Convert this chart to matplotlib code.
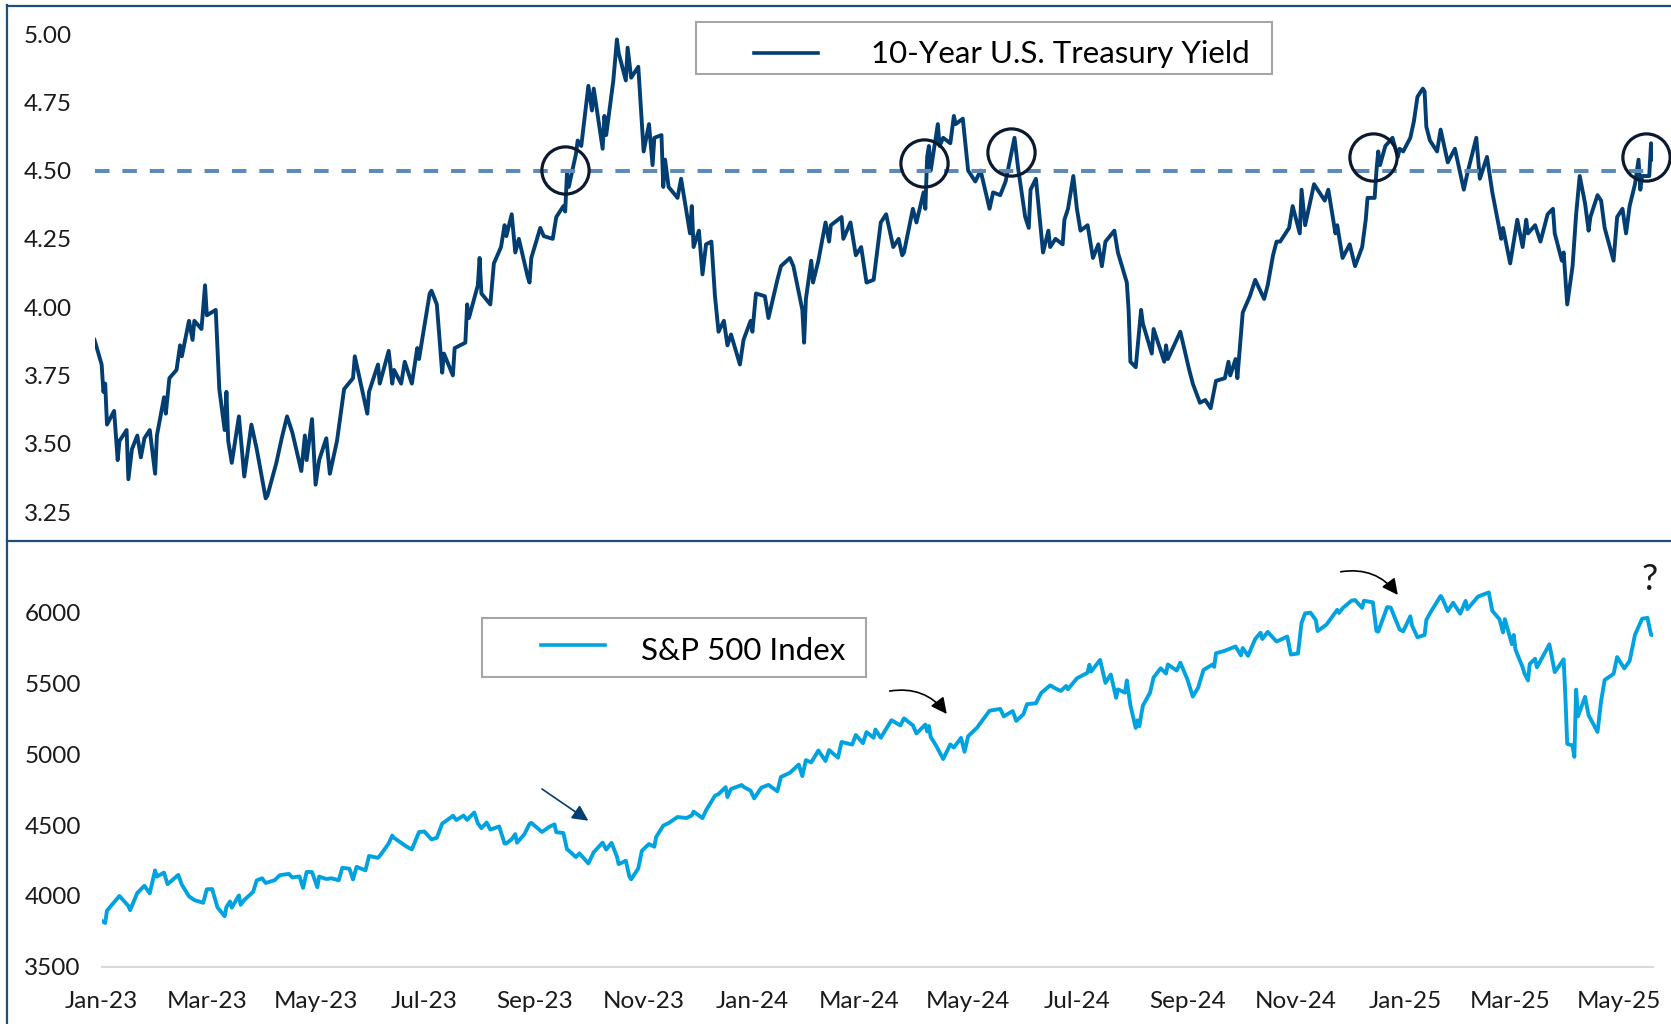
import matplotlib
matplotlib.use("Agg")
import matplotlib.pyplot as plt
import matplotlib.dates as mdates
from matplotlib.lines import Line2D
from matplotlib.patches import Rectangle
import pandas as pd

plt.rcParams['font.family'] = ['Lato', 'DejaVu Sans']

# figure size in pixels
W, H = 1671, 1024

# 10-year treasury yield (%), dates as yymmdd
yld_dates = [
    "221230",
    "230103", "230104", "230105", "230106", "230110", "230112", "230113", "230117", "230118", "230120", "230123", "230125", "230127", "230130",
    "230202", "230203", "230207", "230208", "230210", "230214", "230216", "230217", "230221", "230223", "230224", "230228",
    "230302", "230303", "230308", "230310", "230313", "230314", "230315", "230317", "230321", "230324", "230328", "230331",
    "230405", "230406", "230411", "230414", "230417", "230420", "230425", "230427", "230428",
    "230501", "230503", "230505", "230509", "230511", "230515", "230519", "230524", "230525",
    "230601", "230602", "230607", "230608", "230613", "230615", "230616", "230620", "230622", "230626", "230629", "230630",
    "230706", "230707", "230710", "230713", "230714", "230719", "230720", "230726", "230727", "230728",
    "230802", "230803", "230804", "230809", "230811", "230815", "230817", "230818", "230821", "230823", "230825", "230830", "230831",
    "230901", "230906", "230908", "230913", "230915", "230919", "230920", "230921", "230922", "230926", "230927", "230929",
    "231003", "231005", "231006", "231011", "231012", "231013", "231017", "231019", "231020", "231024", "231025", "231027", "231031",
    "231102", "231103", "231106", "231108", "231109", "231113", "231114", "231115", "231117", "231122", "231124", "231129", "231130",
    "231201", "231204", "231206", "231208", "231211", "231213", "231215", "231218", "231220", "231222", "231227", "231229",
    "240102", "240103", "240105", "240110", "240112", "240117", "240119", "240124", "240126", "240131",
    "240201", "240202", "240205", "240206", "240209", "240213", "240215", "240216", "240222", "240223", "240227",
    "240301", "240304", "240307", "240311", "240315", "240318", "240322", "240325", "240327", "240328",
    "240402", "240404", "240408", "240409", "240410", "240411", "240412", "240416", "240417", "240419", "240423", "240425", "240426", "240430",
    "240503", "240507", "240510", "240515", "240517", "240521", "240524", "240529", "240531",
    "240604", "240606", "240607", "240610", "240614", "240617", "240618", "240621", "240625", "240626", "240628",
    "240701", "240703", "240705", "240709", "240712", "240715", "240717", "240719", "240724", "240726", "240731",
    "240801", "240802", "240805", "240808", "240809", "240814", "240815", "240821", "240822", "240823", "240830",
    "240904", "240906", "240910", "240913", "240916", "240919", "240924", "240926", "240927", "240930",
    "241001", "241004", "241008", "241011", "241016", "241018", "241021", "241023", "241025", "241030",
    "241101", "241105", "241106", "241108", "241113", "241115", "241119", "241121", "241125", "241126", "241129",
    "241203", "241206", "241210", "241212", "241213", "241217", "241218", "241219", "241220", "241223", "241227", "241230", "241231",
    "250102", "250106", "250108", "250110", "250113", "250114", "250115", "250117", "250121", "250123", "250127", "250131",
    "250205", "250207", "250212", "250214", "250218", "250221", "250226", "250227",
    "250303", "250307", "250310", "250312", "250313", "250317", "250320", "250324", "250327", "250328",
    "250401", "250402", "250404", "250407", "250409", "250411", "250414", "250416", "250417", "250421", "250423", "250425", "250430",
    "250502", "250505", "250507", "250509", "250512", "250514", "250515", "250516", "250520", "250521", "250522",
]
yld_vals = [
    3.88,
    3.79, 3.69, 3.72, 3.57, 3.62, 3.44, 3.51, 3.55, 3.37, 3.48, 3.53, 3.45, 3.52, 3.55,
    3.39, 3.53, 3.67, 3.61, 3.74, 3.77, 3.86, 3.82, 3.95, 3.88, 3.95, 3.92,
    4.08, 3.97, 3.99, 3.70, 3.55, 3.69, 3.51, 3.43, 3.60, 3.38, 3.57, 3.48,
    3.30, 3.31, 3.43, 3.52, 3.60, 3.54, 3.40, 3.53, 3.44,
    3.59, 3.35, 3.44, 3.52, 3.39, 3.51, 3.70, 3.74, 3.82,
    3.61, 3.69, 3.79, 3.72, 3.84, 3.72, 3.77, 3.72, 3.80, 3.72, 3.85, 3.81,
    4.05, 4.06, 4.01, 3.76, 3.83, 3.75, 3.85, 3.87, 4.01, 3.96,
    4.08, 4.18, 4.05, 4.01, 4.16, 4.22, 4.30, 4.26, 4.34, 4.20, 4.25, 4.11, 4.09,
    4.18, 4.29, 4.26, 4.25, 4.33, 4.37, 4.35, 4.49, 4.44, 4.56, 4.61, 4.59,
    4.81, 4.72, 4.80, 4.58, 4.70, 4.63, 4.83, 4.98, 4.93, 4.83, 4.95, 4.84, 4.88,
    4.67, 4.57, 4.67, 4.52, 4.62, 4.63, 4.44, 4.54, 4.44, 4.40, 4.47, 4.27, 4.37,
    4.22, 4.28, 4.12, 4.23, 4.24, 4.04, 3.91, 3.95, 3.86, 3.90, 3.79, 3.88,
    3.95, 3.91, 4.05, 4.04, 3.96, 4.10, 4.15, 4.18, 4.15, 3.99,
    3.87, 4.03, 4.17, 4.09, 4.17, 4.31, 4.24, 4.30, 4.33, 4.25, 4.31,
    4.19, 4.22, 4.09, 4.10, 4.31, 4.34, 4.22, 4.25, 4.19, 4.20,
    4.36, 4.31, 4.42, 4.36, 4.55, 4.59, 4.50, 4.67, 4.59, 4.62, 4.60, 4.70, 4.67, 4.69,
    4.50, 4.46, 4.50, 4.36, 4.42, 4.41, 4.46, 4.62, 4.51,
    4.33, 4.29, 4.43, 4.47, 4.20, 4.28, 4.22, 4.25, 4.23, 4.32, 4.36,
    4.48, 4.36, 4.28, 4.30, 4.18, 4.23, 4.15, 4.24, 4.28, 4.20, 4.09,
    3.99, 3.80, 3.78, 3.99, 3.94, 3.83, 3.92, 3.80, 3.86, 3.81, 3.91,
    3.77, 3.72, 3.65, 3.66, 3.63, 3.73, 3.74, 3.80, 3.75, 3.81,
    3.74, 3.98, 4.04, 4.10, 4.03, 4.08, 4.19, 4.24, 4.24, 4.29,
    4.37, 4.27, 4.43, 4.30, 4.45, 4.43, 4.39, 4.43, 4.27, 4.30, 4.18,
    4.23, 4.15, 4.22, 4.32, 4.40, 4.40, 4.50, 4.57, 4.52, 4.59, 4.62, 4.55, 4.58,
    4.57, 4.62, 4.68, 4.77, 4.80, 4.79, 4.66, 4.61, 4.57, 4.65, 4.53, 4.58,
    4.43, 4.49, 4.62, 4.47, 4.55, 4.42, 4.25, 4.29,
    4.16, 4.32, 4.22, 4.32, 4.27, 4.30, 4.24, 4.34, 4.36, 4.27,
    4.17, 4.20, 4.01, 4.15, 4.34, 4.48, 4.38, 4.28, 4.33, 4.41, 4.39, 4.29, 4.17,
    4.33, 4.36, 4.27, 4.37, 4.45, 4.54, 4.43, 4.48, 4.48, 4.60, 4.54,
]

# S&P 500 index closes
spx_dates = [
    "230103", "230105", "230106", "230111", "230113", "230118", "230119", "230123", "230127", "230130",
    "230202", "230203", "230207", "230209", "230215", "230217", "230221", "230224",
    "230301", "230303", "230306", "230309", "230313", "230314", "230316", "230317", "230321", "230322", "230324", "230329", "230331",
    "230403", "230405", "230410", "230413", "230418", "230420", "230424", "230426", "230428",
    "230501", "230504", "230505", "230509", "230512", "230516", "230518", "230522", "230524", "230526", "230531",
    "230602", "230607", "230609", "230613", "230615", "230616", "230621", "230623", "230626", "230630",
    "230703", "230707", "230710", "230713", "230718", "230719", "230721", "230725", "230727", "230731",
    "230802", "230804", "230807", "230809", "230814", "230817", "230818", "230821", "230823", "230824", "230828", "230831",
    "230901", "230907", "230911", "230914", "230915", "230919", "230921", "230922", "230926", "230928",
    "231003", "231006", "231011", "231013", "231016", "231019", "231020", "231024", "231026", "231027", "231031",
    "231102", "231106", "231109", "231110", "231114", "231117", "231122", "231127", "231130",
    "231201", "231206", "231208", "231213", "231215", "231219", "231220", "231222", "231228", "231229",
    "240102", "240104", "240108", "240112", "240117", "240119", "240124", "240129", "240131",
    "240202", "240205", "240209", "240213", "240215", "240220", "240222", "240228",
    "240301", "240305", "240307", "240311", "240312", "240315", "240321", "240326", "240328",
    "240402", "240404", "240409", "240410", "240411", "240412", "240415", "240419", "240423", "240425", "240429",
    "240501", "240503", "240508", "240510", "240515", "240521", "240523", "240528", "240530",
    "240603", "240605", "240610", "240613", "240618", "240621", "240624", "240627", "240628",
    "240703", "240709", "240710", "240711", "240716", "240719", "240722", "240725", "240726", "240730", "240731",
    "240802", "240805", "240806", "240807", "240809", "240813", "240815", "240819", "240822", "240823", "240828", "240830",
    "240903", "240906", "240909", "240912", "240917", "240918", "240919", "240924", "240930",
    "241003", "241004", "241007", "241011", "241014", "241015", "241018", "241023", "241029", "241031",
    "241104", "241106", "241108", "241111", "241114", "241115", "241120", "241126", "241127", "241129",
    "241204", "241206", "241210", "241211", "241216", "241218", "241219", "241224", "241226", "241231",
    "250102", "250106", "250107", "250110", "250114", "250115", "250117", "250123", "250124", "250127", "250130",
    "250203", "250206", "250207", "250213", "250219", "250221", "250225", "250227", "250228",
    "250304", "250305", "250306", "250310", "250311", "250313", "250314", "250317", "250318", "250325", "250328",
    "250402", "250403", "250404", "250407", "250408", "250409", "250410", "250414", "250416", "250421", "250423", "250425", "250430",
    "250502", "250506", "250509", "250512", "250516", "250519", "250521", "250522",
]
spx_vals = [
    3824, 3808, 3895, 3970, 3999, 3929, 3899, 4020, 4071, 4018,
    4180, 4136, 4164, 4082, 4148, 4079, 3997, 3970,
    3951, 4046, 4048, 3918, 3856, 3920, 3960, 3917, 4003, 3937, 3971, 4028, 4109,
    4124, 4091, 4110, 4146, 4155, 4130, 4137, 4056, 4169,
    4168, 4061, 4136, 4119, 4124, 4110, 4198, 4192, 4116, 4205, 4180,
    4282, 4268, 4299, 4370, 4426, 4410, 4366, 4348, 4328, 4450,
    4455, 4399, 4410, 4510, 4555, 4566, 4536, 4567, 4537, 4589,
    4513, 4478, 4518, 4468, 4490, 4370, 4370, 4400, 4436, 4376, 4433, 4508,
    4516, 4451, 4487, 4505, 4450, 4444, 4330, 4320, 4274, 4300,
    4229, 4308, 4376, 4327, 4374, 4278, 4224, 4248, 4137, 4117, 4194,
    4318, 4366, 4347, 4415, 4496, 4514, 4557, 4550, 4568,
    4595, 4549, 4604, 4707, 4719, 4768, 4698, 4755, 4783, 4770,
    4743, 4689, 4764, 4784, 4739, 4840, 4869, 4928, 4846,
    4959, 4943, 5027, 4953, 5030, 4976, 5087, 5069,
    5137, 5079, 5157, 5117, 5175, 5117, 5241, 5204, 5254,
    5205, 5147, 5210, 5161, 5200, 5123, 5062, 4967, 5070, 5048, 5116,
    5018, 5128, 5188, 5223, 5308, 5321, 5268, 5306, 5236,
    5283, 5354, 5361, 5434, 5487, 5465, 5448, 5483, 5460,
    5537, 5577, 5633, 5585, 5667, 5505, 5564, 5399, 5459, 5436, 5522,
    5347, 5186, 5240, 5199, 5344, 5435, 5543, 5608, 5571, 5635, 5592, 5648,
    5529, 5408, 5471, 5596, 5634, 5618, 5714, 5732, 5762,
    5699, 5751, 5696, 5815, 5859, 5815, 5865, 5797, 5832, 5705,
    5712, 5929, 5996, 6001, 5949, 5871, 5917, 6021, 5999, 6032,
    6086, 6090, 6035, 6085, 6074, 5872, 5867, 6040, 6037, 5882,
    5869, 5975, 5909, 5827, 5843, 5950, 5997, 6119, 6101, 6012, 6071,
    5994, 6084, 6026, 6115, 6144, 6013, 5955, 5861, 5955,
    5778, 5843, 5739, 5615, 5572, 5522, 5639, 5675, 5615, 5777, 5581,
    5671, 5397, 5074, 5062, 4982, 5457, 5268, 5406, 5276, 5158, 5376, 5525, 5569,
    5687, 5607, 5660, 5844, 5958, 5964, 5845, 5842,
]

yld_ticks = [3.25, 3.50, 3.75, 4.00, 4.25, 4.50, 4.75, 5.00]
spx_ticks = [3500, 4000, 4500, 5000, 5500, 6000]
threshold = 4.50

# circled breaks above 4.5%
circle_dates = ["230920", "240408", "240527", "241216", "250518"]
circle_vals = [4.503, 4.527, 4.569, 4.551, 4.551]

# arrows on the S&P panel
arrow_tail_dates = ["230907", "240320", "241128"]
arrow_tail_vals = [4755, 5447, 6290]
arrow_tip_dates = ["231003", "240421", "241230"]
arrow_tip_vals = [4531, 5285, 6126]

YLD_COLOR = "#033e73"
SPX_COLOR = "#00a3e0"
DASH_COLOR = "#5f8ab8"
FRAME_COLOR = "#1f4e79"
TEXT_COLOR = "#1a1a1a"

yd = pd.to_datetime(yld_dates, format="%y%m%d")
sd = pd.to_datetime(spx_dates, format="%y%m%d")


def fx(px):
    return px / W


def fy(py):
    return 1 - py / H


fig = plt.figure(figsize=(W / 100, H / 100), dpi=100)

# ---- top panel: treasury yield ----
top_l, top_r, top_t, top_b = 94.5, 1652.8, 34.0, 512.0
ax1 = fig.add_axes([fx(top_l), fy(top_b), fx(top_r - top_l), (top_b - top_t) / H])
ax1.plot(yd, yld_vals, color=YLD_COLOR, lw=2.8, zorder=2)
ax1.axhline(threshold, color=DASH_COLOR, lw=2.9, dashes=(3.6, 3.2), zorder=3)
ax1.plot(pd.to_datetime(circle_dates, format="%y%m%d"), circle_vals, ls="none",
         marker="o", ms=34, mfc="none", mec="#0b1a2e", mew=2.3, zorder=4, clip_on=False)
ax1.set_xlim(pd.Timestamp("2022-12-30"), pd.Timestamp("2025-05-22"))
ax1.set_ylim(3.25, 5.00)
ax1.set_yticks(yld_ticks)
ax1.set_yticklabels([f"{t:.2f}" for t in yld_ticks])
ax1.set_xticks([])
for s in ax1.spines.values():
    s.set_visible(False)
ax1.tick_params(axis="y", length=0, pad=16.2, labelsize=17.5, labelcolor=TEXT_COLOR)
ax1.patch.set_alpha(0)

# ---- bottom panel: S&P 500 ----
bot_l, bot_r, bot_t, bot_b = 101.6, 1652.8, 560.0, 966.6
ax2 = fig.add_axes([fx(bot_l), fy(bot_b), fx(bot_r - bot_l), (bot_b - bot_t) / H])
ax2.plot(sd, spx_vals, color=SPX_COLOR, lw=2.8, zorder=2)
ax2.set_xlim(pd.Timestamp("2023-01-03"), pd.Timestamp("2025-05-22"))
ax2.set_ylim(3500, 6000 + (612.8 - bot_t) / (bot_b - 612.8) * 2500)
ax2.set_yticks(spx_ticks)
ax2.xaxis.set_major_locator(mdates.MonthLocator(bymonth=[1, 3, 5, 7, 9, 11], bymonthday=3))
ax2.xaxis.set_major_formatter(mdates.DateFormatter("%b-%y"))
for k in ["top", "left", "right"]:
    ax2.spines[k].set_visible(False)
ax2.spines["bottom"].set_color("#d9d9d9")
ax2.spines["bottom"].set_linewidth(1.5)
ax2.tick_params(axis="y", length=0, pad=15.0, labelsize=17.5, labelcolor=TEXT_COLOR)
ax2.tick_params(axis="x", length=0, pad=17.5, labelsize=17.5, labelcolor=TEXT_COLOR)
ax2.patch.set_alpha(0)

# arrows
arrow_colors = [YLD_COLOR, "black", "black"]
arrow_curves = ["arc3,rad=0", "arc3,rad=-0.3", "arc3,rad=-0.3"]
for i in range(3):
    ax2.annotate("", xy=(pd.Timestamp("20" + arrow_tip_dates[i]), arrow_tip_vals[i]),
                 xytext=(pd.Timestamp("20" + arrow_tail_dates[i]), arrow_tail_vals[i]),
                 arrowprops=dict(arrowstyle="-|>", color=arrow_colors[i], lw=1.2,
                                 mutation_scale=24, shrinkA=0, shrinkB=0,
                                 connectionstyle=arrow_curves[i]),
                 annotation_clip=False)
ax2.text(pd.Timestamp("2025-05-20"), 6232, "?", fontsize=26, ha="center", va="center",
         color=TEXT_COLOR, clip_on=False)

# ---- legend boxes ----
for (x0, y0, x1, y1), (lx0, lx1, ly), (tx, tb), color, label in [
    ((696, 22, 1272, 74), (754, 818, 52.5), (871, 63.3), YLD_COLOR, "10-Year U.S. Treasury Yield"),
    ((482, 618, 866, 677), (541, 605, 644.7), (641, 660), SPX_COLOR, "S&P 500 Index"),
]:
    fig.add_artist(Rectangle((fx(x0), fy(y1)), fx(x1 - x0), (y1 - y0) / H,
                             transform=fig.transFigure, facecolor="white",
                             edgecolor="#a6a6a6", lw=1.5, zorder=5))
    fig.add_artist(Line2D([fx(lx0), fx(lx1)], [fy(ly), fy(ly)], transform=fig.transFigure,
                          color=color, lw=2.6, zorder=6))
    fig.text(fx(tx), fy(tb), label, fontsize=22.5, va="baseline", ha="left",
             color="black", zorder=6)

# ---- outer frame and panel separator ----
for xs, ys in [([6.9, 6.9], [5, 1024]), ([6.9, 1671], [5.5, 5.5]), ([6.9, 1671], [541, 541])]:
    fig.add_artist(Line2D([fx(v) for v in xs], [fy(v) for v in ys],
                          transform=fig.transFigure, color=FRAME_COLOR, lw=1.6))

fig.savefig("out.png", dpi=100)
